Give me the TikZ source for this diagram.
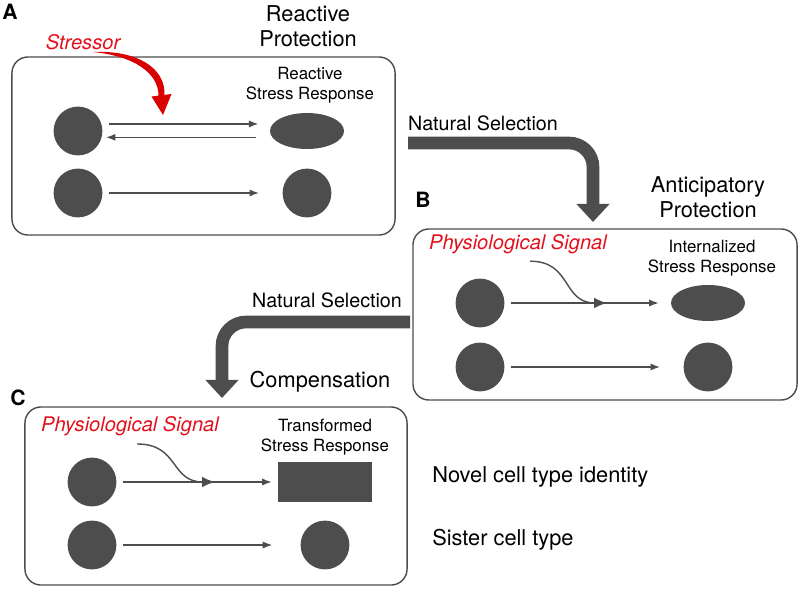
\documentclass[tikz,border=0pt]{standalone}
\usepackage{fontspec}
\setmainfont{TeX Gyre Heros}
\usepackage{tikz}
\usetikzlibrary{arrows.meta,positioning,calc,shapes.geometric}
\definecolor{cellgray}{HTML}{4D4D4D}
\definecolor{sigred}{HTML}{E3101C}
\definecolor{hitred}{HTML}{D80000}

\begin{document}
\begin{tikzpicture}
[x=0.025cm,y=-0.025cm,
 cell/.style={circle,fill=cellgray,inner sep=0pt,minimum size=1.22cm},
 blob/.style={ellipse,fill=cellgray,inner sep=0pt,minimum width=1.85cm,minimum height=0.9cm},
 block/.style={rectangle,fill=cellgray,inner sep=0pt,minimum width=2.33cm,minimum height=0.98cm},
 panel/.style={draw=cellgray,line width=1pt,rounded corners=0.4cm,inner sep=0pt},
 big/.style={font=\fontsize{15.5}{17.7}\selectfont,align=center,inner sep=0pt},
 mid/.style={font=\fontsize{14}{17}\selectfont,inner sep=0pt},
 small/.style={font=\fontsize{12}{14.2}\selectfont,align=center,inner sep=0pt},
 sig/.style={font=\fontsize{14.3}{17}\selectfont\itshape,text=sigred,inner sep=0pt},
 letter/.style={font=\fontsize{15}{18}\selectfont\bfseries,inner sep=0pt},
 link/.style={draw=cellgray,line width=1pt,shorten <=0.15cm,-{Latex[length=0.24cm,width=0.18cm]}},
 hook/.style={draw=cellgray,line width=1pt,-{Latex[length=0.32cm,width=0.26cm]}},
 fat/.style={draw=cellgray,line width=9pt,rounded corners=0.6cm,-{Triangle[length=0.45cm,width=0.8cm]}}]

\useasboundingbox (0,0) rectangle (800,590);

% panels
\node[panel,minimum width=9.575cm,minimum height=4.45cm] (boxA) at (203.5,146) {};
\node[panel,minimum width=9.6cm,minimum height=4.275cm] (boxB) at (605,314.5) {};
\node[panel,minimum width=9.55cm,minimum height=4.45cm] (boxC) at (216,496) {};

% panel A
\node[letter] (tA) at (10,12) {A};
\node[big] (ttlA) at (308,26) {Reactive\\Protection};
\node[sig] (stress) at (83,42) {Stressor};
\node[small] (rsrA) at (310,85) {Reactive\\Stress Response};
\node[cell] (a1) at (78,131) {};
\node[cell] (a2) at (78,193) {};
\node[blob] (ar1) at (307,131) {};
\node[cell] (ar2) at (307,193) {};
\draw[link,shorten >=0.28cm] ([yshift=5pt]a1.east) -- ([yshift=5pt]ar1.west);
\draw[link,shorten <=0.35cm,shorten >=0.08cm] ([yshift=-4.5pt]ar1.west) -- ([yshift=-4.5pt]a1.east);
\draw[link,shorten >=0.58cm] (a2) -- (ar2);
% tapered stressor arrow
\coordinate (hitS) at (93,52);
\coordinate (hitR) at (164.5,95.5);
\coordinate (hitL) at (158.5,96.5);
\coordinate (hitA) at (163,115);
\fill[hitred] (hitS) .. controls (137,50) and (166,68) .. (hitR)
  -- (hitL) .. controls (159,73) and (134,56) .. (hitS) -- cycle;
\fill[hitred] (151.5,96.5) -- (171.5,94) -- (hitA) -- cycle;

% selection A to B
\node[mid] (nsA) at (483,123) {Natural Selection};
\coordinate (fromA) at (408,143);
\coordinate (intoB) at (593,222);
\draw[fat] (fromA) -| (intoB);

% panel B
\node[letter] (tB) at (423,200) {B};
\node[big] (ttlB) at (708,197) {Anticipatory\\Protection};
\node[sig] (sigB) at (518,244) {Physiological Signal};
\node[small] (isrB) at (712,258) {Internalized\\Stress Response};
\node[cell] (b1) at (480,303) {};
\node[cell] (b2) at (480,367) {};
\node[blob] (br1) at (708,303) {};
\node[cell] (br2) at (708,367) {};
\coordinate (jB) at (607,303);
\draw[link,shorten >=0.3cm] (b1) -- (br1);
\draw[link,shorten >=0.58cm] (b2) -- (br2);
\draw[hook] ([xshift=0.3cm,yshift=-0.18cm]sigB.south) .. controls +(42,0) and +(-45,0) .. (jB);

% selection B to C
\node[mid] (nsB) at (327,300) {Natural Selection};
\coordinate (fromB) at (410,322);
\coordinate (intoC) at (222,398);
\draw[fat] (fromB) -| (intoC);

% panel C
\node[big] (comp) at (320,382) {Compensation};
\node[letter] (tC) at (18,398) {C};
\node[sig] (sigC) at (130,426) {Physiological Signal};
\node[small] (tsrC) at (325,437) {Transformed\\Stress Response};
\node[cell] (c1) at (92,482) {};
\node[cell] (c2) at (92,545) {};
\node[block] (cr1) at (325,482) {};
\node[cell] (cr2) at (325,545) {};
\coordinate (jC) at (215,482);
\draw[link,shorten >=0.16cm] (c1) -- (cr1);
\draw[link,shorten >=0.7cm] (c2) -- (cr2);
\draw[hook] ([xshift=0.18cm,yshift=-0.2cm]sigC.south) .. controls +(42,0) and +(-45,0) .. (jC);

% side labels
\node[big,anchor=west] (novel) at (432,477) {Novel cell type identity};
\node[big,anchor=west] (sister) at (432,540) {Sister cell type};
\end{tikzpicture}
\end{document}
